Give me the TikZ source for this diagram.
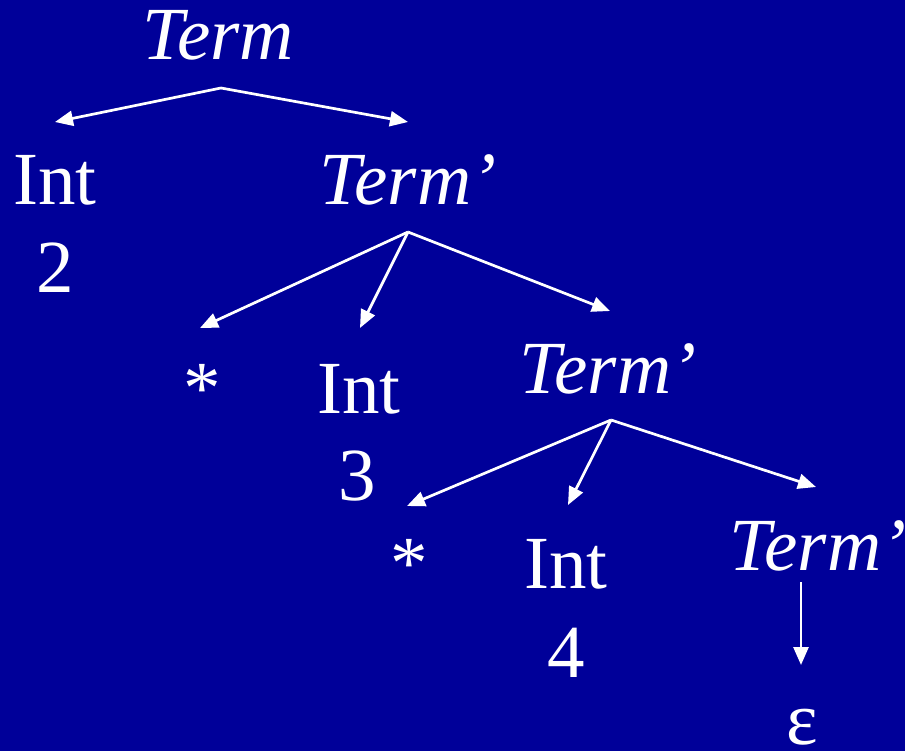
\documentclass[tikz,border=0pt]{standalone}
\usepackage{fontspec}
\setmainfont{Liberation Serif}
\usetikzlibrary{arrows.meta,calc}
\definecolor{bgblue}{RGB}{0,0,153}
\tikzset{
  lbl/.style={inner sep=0pt, anchor=base, text=white, font=\fontsize{75}{90}\selectfont},
  nt/.style={lbl, font=\fontsize{75}{90}\selectfont\itshape},
  arr/.style={draw=white, line width=2.7pt, -{Triangle[length=18pt,width=15pt]}}
}
\begin{document}
\begin{tikzpicture}[x=1pt,y=-1pt]
\fill[bgblue] (0,0) rectangle (905,751);
\useasboundingbox (0,0) rectangle (905,751);
\node[nt]  (t0)  at (218,60)  {Term};
\node[lbl] (i1)  at (55,205)  {Int};
\node[lbl] (n2)  at (55,293)  {2};
\node[nt]  (t1)  at (408,205) {Term’};
\node[lbl] (s1)  at (202,413) {*};
\node[lbl] (i2)  at (359,413) {Int};
\node[lbl] (n3)  at (357,500) {3};
\node[nt]  (t2)  at (608,393) {Term’};
\node[lbl] (s2)  at (409,588) {*};
\node[lbl] (i3)  at (566,588) {Int};
\node[lbl] (n4)  at (566,677) {4};
\node[nt]  (t3)  at (818,570) {Term’};
\node[lbl] (eps) at (802,744) {ε};
% level 1
\draw[arr] ($(t0.base)+(3,28)$) -- ($(i1.base)+(0,-83)$);
\draw[arr] ($(t0.base)+(3,28)$) -- ($(t1.base)+(0,-83)$);
% level 2
\draw[arr] ($(t1.base)+(0,27)$) -- ($(s1.base)+(-2,-85)$);
\draw[arr] ($(t1.base)+(0,27)$) -- ($(i2.base)+(1,-85)$);
\draw[arr] ($(t1.base)+(0,27)$) -- ($(t2.base)+(2,-82)$);
% level 3
\draw[arr] ($(t2.base)+(3,27)$) -- ($(s2.base)+(-2,-82)$);
\draw[arr] ($(t2.base)+(3,27)$) -- ($(i3.base)+(2,-83)$);
\draw[arr] ($(t2.base)+(3,27)$) -- ($(t3.base)+(-2,-83)$);
% epsilon
\draw[arr] ($(t3.base)+(-17,12)$) -- ($(eps.base)+(-1,-79)$);
\end{tikzpicture}
\end{document}
